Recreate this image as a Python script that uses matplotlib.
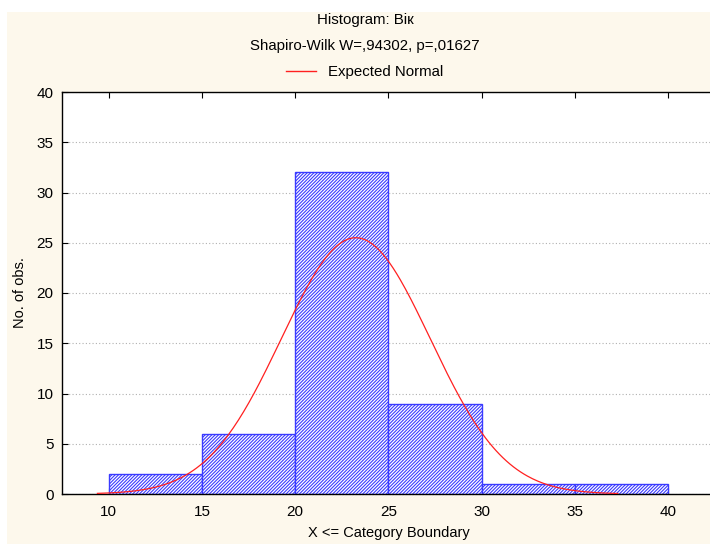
import numpy as np
import matplotlib.pyplot as plt
from matplotlib.patches import Rectangle
from matplotlib.lines import Line2D

plt.rcParams['font.family'] = ['Liberation Sans', 'DejaVu Sans']
plt.rcParams['hatch.linewidth'] = 0.8

# histogram data
bin_edges = [10, 15, 20, 25, 30, 35, 40]
counts = [2, 6, 32, 9, 1, 1]
# expected normal parameters
n_obs = 51
mean_age = 23.25
sd_age = 3.99
curve_lo, curve_hi = 9.4, 37.3

x_ticks = [10, 15, 20, 25, 30, 35, 40]
y_ticks = [0, 5, 10, 15, 20, 25, 30, 35, 40]

bg = '#fdf8ec'
fig = plt.figure(figsize=(7.1, 5.44), dpi=100, facecolor=bg)
# white borders on top and left
fig.patches.append(Rectangle((0, 1 - 12/544), 1, 12/544, transform=fig.transFigure,
                             facecolor='white', edgecolor='none', zorder=0))
fig.patches.append(Rectangle((0, 0), 7/710, 1, transform=fig.transFigure,
                             facecolor='white', edgecolor='none', zorder=0))

ax = fig.add_axes([62/710, 50/544, 652.8/710, 402/544])
ax.set_facecolor('white')

widths = np.diff(bin_edges)
ax.bar(bin_edges[:-1], counts, width=widths, align='edge', facecolor='white',
       edgecolor='#3a3aff', hatch='/' * 10, linewidth=1.0, zorder=2)

xs = np.linspace(curve_lo, curve_hi, 300)
bw = bin_edges[1] - bin_edges[0]
ys = n_obs * bw / (sd_age * np.sqrt(2 * np.pi)) * np.exp(-0.5 * ((xs - mean_age) / sd_age) ** 2)
ax.plot(xs, ys, color='#ff2020', linewidth=0.9, zorder=3)

ax.set_xlim(7.5, 42.5)
ax.set_ylim(0, 40)
ax.set_xticks(x_ticks)
ax.set_yticks(y_ticks)
ax.tick_params(direction='in', labelsize=11, length=4, colors='black',
               top=True, right=False)
ax.tick_params(axis='x', pad=8)
ax.tick_params(axis='y', pad=6)
ax.yaxis.grid(True, linestyle=(0, (1, 2)), color='#b0b0b0', linewidth=0.8)
ax.set_axisbelow(True)
for s in ['left', 'bottom', 'top']:
    ax.spines[s].set_linewidth(1.0)
ax.spines['right'].set_visible(False)

ax.set_xlabel('X <= Category Boundary', fontsize=10.5, labelpad=5)
ax.set_ylabel('No. of obs.', fontsize=10.5, labelpad=7)

cx = 365 / 710
fig.text(cx, 1 - 20/544, 'Histogram: Bік', ha='center', va='center', fontsize=10.8)
fig.text(cx, 1 - 46/544, 'Shapiro-Wilk W=,94302, p=,01627', ha='center', va='center', fontsize=10.8)
fig.legend(handles=[Line2D([], [], color='#ff2020', linewidth=1.0)], labels=['Expected Normal'],
           loc='center', bbox_to_anchor=(cx, 1 - 72/544), frameon=False, fontsize=10.8,
           handlelength=2.0, handletextpad=0.8)

plt.savefig('out.png', dpi=100, facecolor=bg)
